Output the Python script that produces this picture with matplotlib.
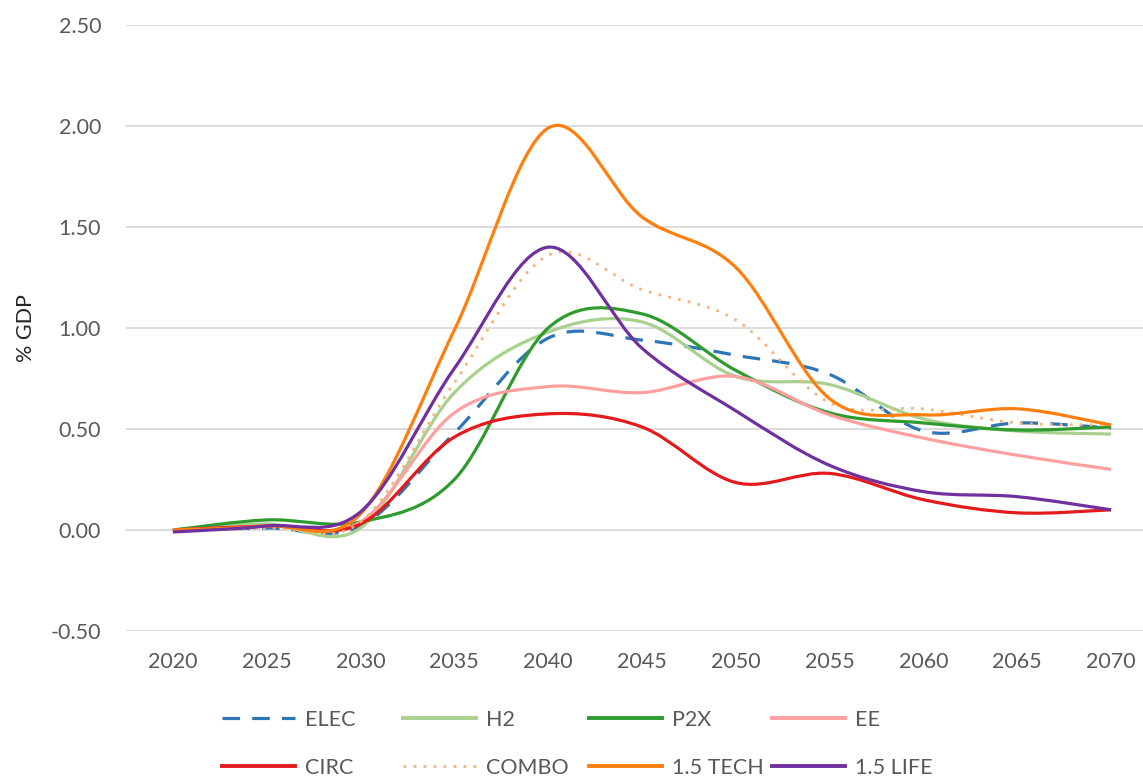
import matplotlib.pyplot as plt
import numpy as np
from matplotlib.path import Path
from matplotlib.patches import PathPatch
from matplotlib.lines import Line2D

plt.rcParams['font.family'] = ['Lato', 'DejaVu Sans']

years = [2020, 2025, 2030, 2035, 2040, 2045, 2050, 2055, 2060, 2065, 2070]

elec = [0.00, 0.01, 0.02, 0.48, 0.95, 0.94, 0.865, 0.77, 0.49, 0.53, 0.505]
h2 = [0.00, 0.03, 0.01, 0.68, 0.98, 1.03, 0.76, 0.72, 0.55, 0.49, 0.475]
p2x = [0.00, 0.05, 0.04, 0.25, 1.00, 1.07, 0.79, 0.58, 0.53, 0.495, 0.51]
ee = [0.00, 0.02, 0.04, 0.58, 0.71, 0.68, 0.76, 0.57, 0.455, 0.37, 0.30]
circ = [0.00, 0.02, 0.03, 0.46, 0.575, 0.51, 0.235, 0.28, 0.15, 0.085, 0.10]
combo = [0.00, 0.01, 0.04, 0.73, 1.36, 1.19, 1.04, 0.63, 0.60, 0.53, 0.52]
tech = [0.00, 0.02, 0.08, 0.99, 1.99, 1.55, 1.30, 0.65, 0.57, 0.60, 0.52]
life = [-0.01, 0.02, 0.09, 0.80, 1.40, 0.90, 0.59, 0.32, 0.19, 0.165, 0.10]

ytick_vals = [-0.5, 0.0, 0.5, 1.0, 1.5, 2.0, 2.5]
ytick_labels = ['-0.50', '0.00', '0.50', '1.00', '1.50', '2.00', '2.50']

# name, values, colour, linestyle, width
series = [
    ('ELEC', elec, '#2e75b6', (0, (5.5, 3.8)), 2.3),
    ('H2', h2, '#a9d18e', '-', 2.3),
    ('P2X', p2x, '#2e9b2e', '-', 2.3),
    ('EE', ee, '#ff9f9f', '-', 2.3),
    ('CIRC', circ, '#e41a1c', '-', 2.3),
    ('COMBO', combo, '#f6b37c', (0, (1.0, 2.6)), 2.0),
    ('1.5 TECH', tech, '#ff7f0e', '-', 2.3),
    ('1.5 LIFE', life, '#7030a0', '-', 2.3),
]


def smooth_path(x, y):
    # excel-like smoothed line: catmull-rom as cubic bezier
    pts = np.column_stack([x, y]).astype(float)
    ext = np.vstack([pts[0], pts, pts[-1]])
    verts = [pts[0]]
    codes = [Path.MOVETO]
    for i in range(len(pts) - 1):
        p0, p1, p2, p3 = ext[i], ext[i + 1], ext[i + 2], ext[i + 3]
        verts += [p1 + (p2 - p0) / 6, p2 - (p3 - p1) / 6, p2]
        codes += [Path.CURVE4] * 3
    return Path(verts, codes)


fig = plt.figure(figsize=(11.43, 7.79), dpi=100)
ax = fig.add_axes([126 / 1143, 1 - 631 / 779, 1032 / 1143, 606 / 779])

for name, vals, col, ls, lw in series:
    ax.add_patch(PathPatch(smooth_path(years, vals), fill=False, edgecolor=col,
                           lw=lw, linestyle=ls, capstyle='butt', zorder=3))

ax.set_xlim(2017.5, 2072.5)
ax.set_ylim(-0.5, 2.5)
ax.set_xticks(years)
ax.set_yticks(ytick_vals)
ax.set_yticklabels(ytick_labels)
ax.grid(axis='y', color='#d9d9d9', lw=1.3)
ax.set_axisbelow(True)
for s in ax.spines.values():
    s.set_visible(False)
ax.tick_params(axis='both', length=0, labelsize=15.5, labelcolor='#595959')
ax.tick_params(axis='x', pad=15)
ax.tick_params(axis='y', pad=18)

ax.set_ylabel('% GDP', fontsize=15.5, color='#262626')
ax.yaxis.set_label_coords(-0.087, 0.5)

# legend: 4 columns x 2 rows, one small legend per entry
col_x = [222, 403, 589, 772]
row_y = [720, 768]
for i, (name, vals, col, ls, lw) in enumerate(series):
    h = Line2D([], [], color=col, lw=lw + 0.5 if ls == '-' else lw, linestyle=ls)
    fig.legend([h], [name], loc='center left',
               bbox_to_anchor=(col_x[i % 4] / 1143, 1 - row_y[i // 4] / 779),
               frameon=False, borderpad=0, borderaxespad=0, handlelength=3.4,
               handletextpad=0.45, fontsize=15.5, labelcolor='#595959')

fig.savefig('out.png', dpi=100)
